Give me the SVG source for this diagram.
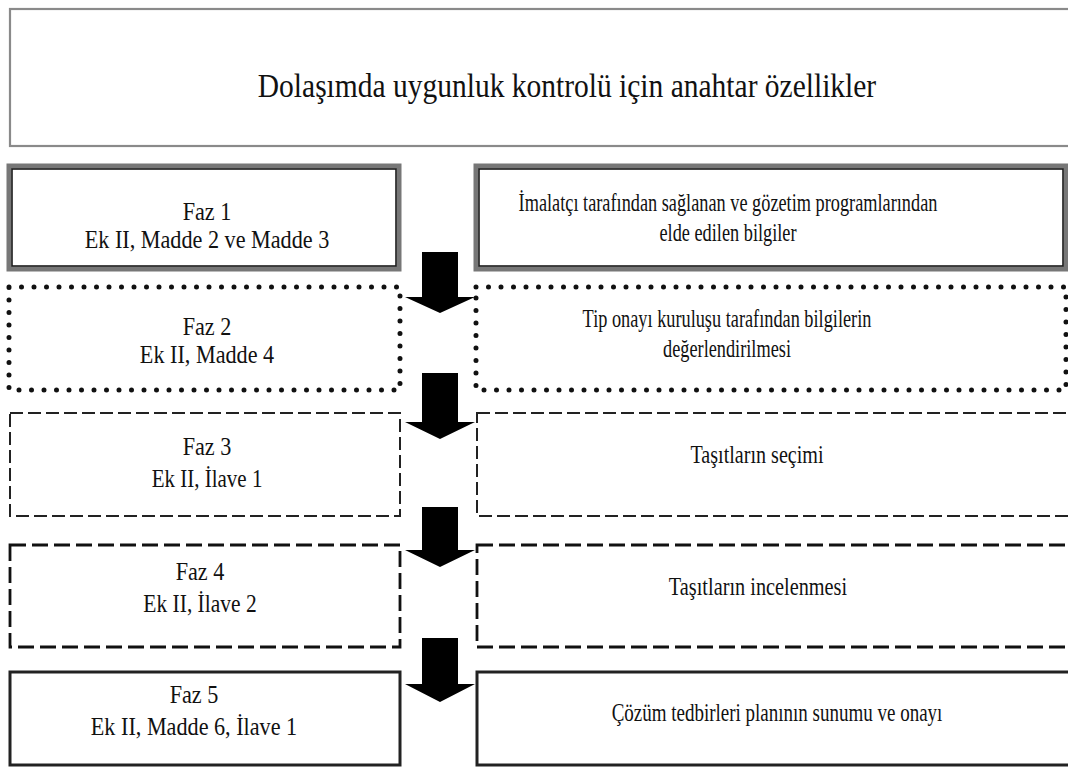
<svg xmlns="http://www.w3.org/2000/svg" width="1068" height="773" viewBox="0 0 1068 773">
<style>
text{font-family:"Liberation Serif","Times New Roman",serif;fill:#111;text-anchor:middle}
.t{font-size:29.5px}
.b{font-size:22.2px}
.r{font-size:18.3px}
.thin{fill:#fff;stroke:#8a8a8a;stroke-width:2.2}
.sol1{fill:#fff;stroke:#777;stroke-width:5}
.sol1i{fill:none;stroke:#1a1a1a;stroke-width:1.6}
.dot{fill:#fff;stroke:#111;stroke-width:5;stroke-linecap:round;stroke-dasharray:0 12.5}
.dsh3{fill:#fff;stroke:#222;stroke-width:2;stroke-dasharray:13 5}
.dsh4{fill:#fff;stroke:#111;stroke-width:2.8;stroke-dasharray:16 6}
.sol5{fill:#fff;stroke:#222;stroke-width:3}
.arr{fill:#000}
</style>
<g id="title">
<rect class="thin" x="10" y="9" width="1068" height="137"/>
<text class="t" transform="translate(567,97) scale(1,1.13)">Dolaşımda uygunluk kontrolü için anahtar özellikler</text>
</g>
<g id="faz1">
<rect class="sol1" x="9" y="166" width="390" height="103"/>
<rect class="sol1i" x="12" y="169" width="384" height="97"/>
<text class="b" transform="translate(207,220) scale(1,1.15)">Faz 1</text>
<text class="b" transform="translate(207,248) scale(1,1.15)">Ek II, Madde 2 ve Madde 3</text>
</g>
<g id="info1">
<rect class="sol1" x="476" y="166" width="590" height="103"/>
<rect class="sol1i" x="479" y="169" width="584" height="97"/>
<text class="r" transform="translate(728,211) scale(1,1.35)">İmalatçı tarafından sağlanan ve gözetim programlarından</text>
<text class="r" transform="translate(728,241) scale(1,1.35)">elde edilen bilgiler</text>
</g>
<g id="faz2">
<rect class="dot" x="9" y="287" width="391" height="103"/>
<text class="b" transform="translate(207,335) scale(1,1.15)">Faz 2</text>
<text class="b" transform="translate(207,363) scale(1,1.15)">Ek II, Madde 4</text>
</g>
<g id="info2">
<rect class="dot" x="476" y="287" width="590" height="103"/>
<text class="r" transform="translate(727,327) scale(1,1.35)">Tip onayı kuruluşu tarafından bilgilerin</text>
<text class="r" transform="translate(727,357) scale(1,1.35)">değerlendirilmesi</text>
</g>
<g id="faz3">
<rect class="dsh3" x="10" y="413" width="390" height="103"/>
<text class="b" transform="translate(207,455) scale(1,1.15)">Faz 3</text>
<text class="b" style="font-size:21px" transform="translate(207,487) scale(1,1.2)">Ek II, İlave 1</text>
</g>
<g id="info3">
<rect class="dsh3" x="477" y="413" width="595" height="103"/>
<text class="r" style="font-size:20.1px" transform="translate(757,463) scale(1,1.22)">Taşıtların seçimi</text>
</g>
<g id="faz4">
<rect class="dsh4" x="10" y="545" width="390" height="102"/>
<text class="b" transform="translate(200,580) scale(1,1.15)">Faz 4</text>
<text class="b" style="font-size:21.5px" transform="translate(200,612) scale(1,1.18)">Ek II, İlave 2</text>
</g>
<g id="info4">
<rect class="dsh4" x="477" y="545" width="595" height="102"/>
<text class="r" style="font-size:20.3px" transform="translate(758,595) scale(1,1.22)">Taşıtların incelenmesi</text>
</g>
<g id="faz5">
<rect class="sol5" x="10" y="672" width="390" height="93"/>
<text class="b" transform="translate(194,703) scale(1,1.15)">Faz 5</text>
<text class="b" transform="translate(194,735) scale(1,1.15)">Ek II, Madde 6, İlave 1</text>
</g>
<g id="info5">
<rect class="sol5" x="477" y="672" width="595" height="93"/>
<text class="r" style="font-size:19px" transform="translate(777,721) scale(1,1.28)">Çözüm tedbirleri planının sunumu ve onayı</text>
</g>
<g id="connectors">
<polygon class="arr" points="422,252 458,252 458,297 475,297 440,313 405,297 422,297"/>
<polygon class="arr" points="422,373 458,373 458,422 475,422 440,439 405,422 422,422"/>
<polygon class="arr" points="422,507 458,507 458,550 475,550 440,567 405,550 422,550"/>
<polygon class="arr" points="422,638 458,638 458,684 475,684 440,702 405,684 422,684"/>
</g>
</svg>
